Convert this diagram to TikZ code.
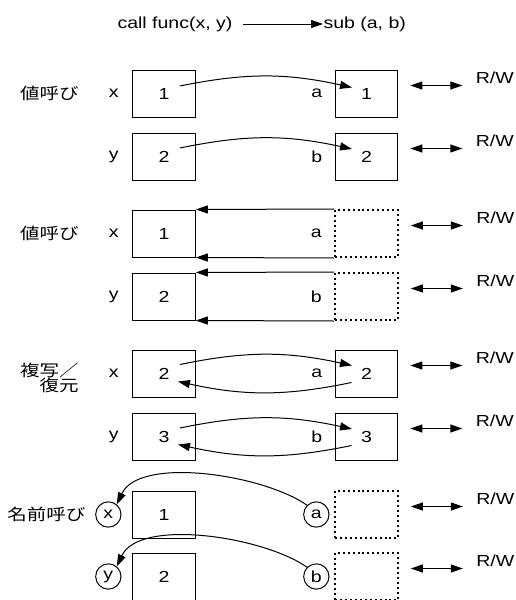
\documentclass[tikz,border=0pt]{standalone}
\usepackage{fontspec}
\setmainfont[FakeStretch=1.22]{Liberation Sans}
\newfontfamily\jpfont[FakeStretch=1.22]{Noto Sans CJK JP}
\usetikzlibrary{arrows.meta,positioning,calc}

\newcommand\labelsize{\fontsize{12pt}{14pt}\selectfont}

\tikzset{
  cell/.style={draw, minimum width=47pt, minimum height=35.25pt, inner sep=0pt},
  ghost/.style={cell, line width=1.5pt, dash pattern=on 1.5pt off 2.2pt},
  tag/.style={inner sep=0pt},
  jp/.style={tag, font=\labelsize\jpfont},
  ring/.style={draw, circle, minimum size=19pt, inner sep=0pt},
  pass/.style={-{Triangle[length=9pt,width=6pt]}},
  rw/.style={{Triangle[length=9pt,width=6pt]}-{Triangle[length=9pt,width=6pt]}},
}

\begin{document}
\begin{tikzpicture}[line width=0.75pt, x=0.75pt, y=0.75pt, font=\labelsize]
  \useasboundingbox (0,0) rectangle (515,-600);

  % Call line on top.
  \node[tag] (call) at (175,-24) {call func(x, y)};
  \node[tag, anchor=west] (sub) at (323,-24) {sub (a, b)};
  \draw[pass, shorten <=7.5pt] (call.east) -- (sub.west);

  % Call by value: the values are copied over.
  \node[cell] (x1) at (164,-93.5) {1};
  \node[cell] (a1) at (366.5,-93.5) {1};
  \node[cell] (y1) at (164,-156.5) {2};
  \node[cell] (b1) at (366.5,-156.5) {2};
  \node[tag, left=9.75pt of x1] (xl1) {x};
  \node[tag, left=9.75pt of y1] (yl1) {y};
  \node[tag, left=9pt of a1] {a};
  \node[tag, left=9pt of b1] {b};
  \node[jp, left=22pt of xl1] {値呼び};
  \draw[pass] ($(x1.center)+(16,7.5)$) to[bend left=12] ($(a1.center)+(-14.5,6)$);
  \draw[pass] ($(y1.center)+(16,8.5)$) to[bend left=12] ($(b1.center)+(-14.5,7.5)$);

  % Call by reference: a and b stand on x and y.
  \node[cell] (x2) at (164,-233.5) {1};
  \node[ghost] (a2) at (366.5,-233.5) {};
  \node[cell] (y2) at (164,-296.5) {2};
  \node[ghost] (b2) at (366.5,-296.5) {};
  \node[tag, left=9.75pt of x2] (xl2) {x};
  \node[tag, left=9.75pt of y2] (yl2) {y};
  \node[tag, left=9pt of a2] {a};
  \node[tag, left=9pt of b2] {b};
  \node[jp, left=22pt of xl2] {値呼び};
  \draw[pass] (a2.north west) -- (x2.north east);
  \draw[pass] (a2.south west) -- (x2.south east);
  \draw[pass] (b2.north west) -- (y2.north east);
  \draw[pass] (b2.south west) -- (y2.south east);

  % Copy-restore: copied in, then copied back.
  \node[cell] (x3) at (164,-373.5) {2};
  \node[cell] (a3) at (366.5,-373.5) {2};
  \node[cell] (y3) at (164,-436.5) {3};
  \node[cell] (b3) at (366.5,-436.5) {3};
  \node[tag, left=9.75pt of x3] (xl3) {x};
  \node[tag, left=9.75pt of y3] (yl3) {y};
  \node[tag, left=9pt of a3] {a};
  \node[tag, left=9pt of b3] {b};
  \node[jp, align=right, left=22pt of xl3, yshift=-3pt] {複写／\\[-2.75pt]復元};
  \draw[pass] ($(x3.center)+(16,9)$) to[bend left=12] ($(a3.center)+(-14.5,8)$);
  \draw[pass] ($(a3.center)+(-15,-9)$) to[bend left=12] ($(x3.center)+(14,-8)$);
  \draw[pass] ($(y3.center)+(16,8.5)$) to[bend left=12] ($(b3.center)+(-14.5,7.5)$);
  \draw[pass] ($(b3.center)+(-15,-9)$) to[bend left=12] ($(y3.center)+(14,-8)$);

  % Call by name: the names themselves are passed.
  \node[cell] (x4) at (164,-514.5) {1};
  \node[ghost] (a4) at (366.5,-514.5) {};
  \node[cell] (y4) at (164,-576.5) {2};
  \node[ghost] (b4) at (366.5,-576.5) {};
  \node[ring, left=8pt of x4] (cx) {x};
  \node[ring, left=8pt of y4] (cy) {y};
  \node[ring, left=3.5pt of a4] (ca) {a};
  \node[ring, left=3.5pt of b4] (cb) {b};
  \node[jp, left=7pt of cx] {名前呼び};
  \draw[pass] (ca.135) to[out=145, in=65, looseness=0.72] (cx.50);
  \draw[pass] (cb.135) to[out=145, in=65, looseness=0.72] (cy.50);

  % Read/write arrows on the right.
  \foreach \r in {a1,b1,a2,b2,a3,b3,a4,b4} {
    \coordinate (rwl\r) at ($(\r.east)+(12,8)$);
    \coordinate (rwr\r) at ($(\r.east)+(64,8)$);
    \draw[rw] (rwl\r) -- (rwr\r);
    \node[tag, anchor=west] (rw\r) at ($(\r.east)+(77,16)$) {R/W};
  }
\end{tikzpicture}
\end{document}
